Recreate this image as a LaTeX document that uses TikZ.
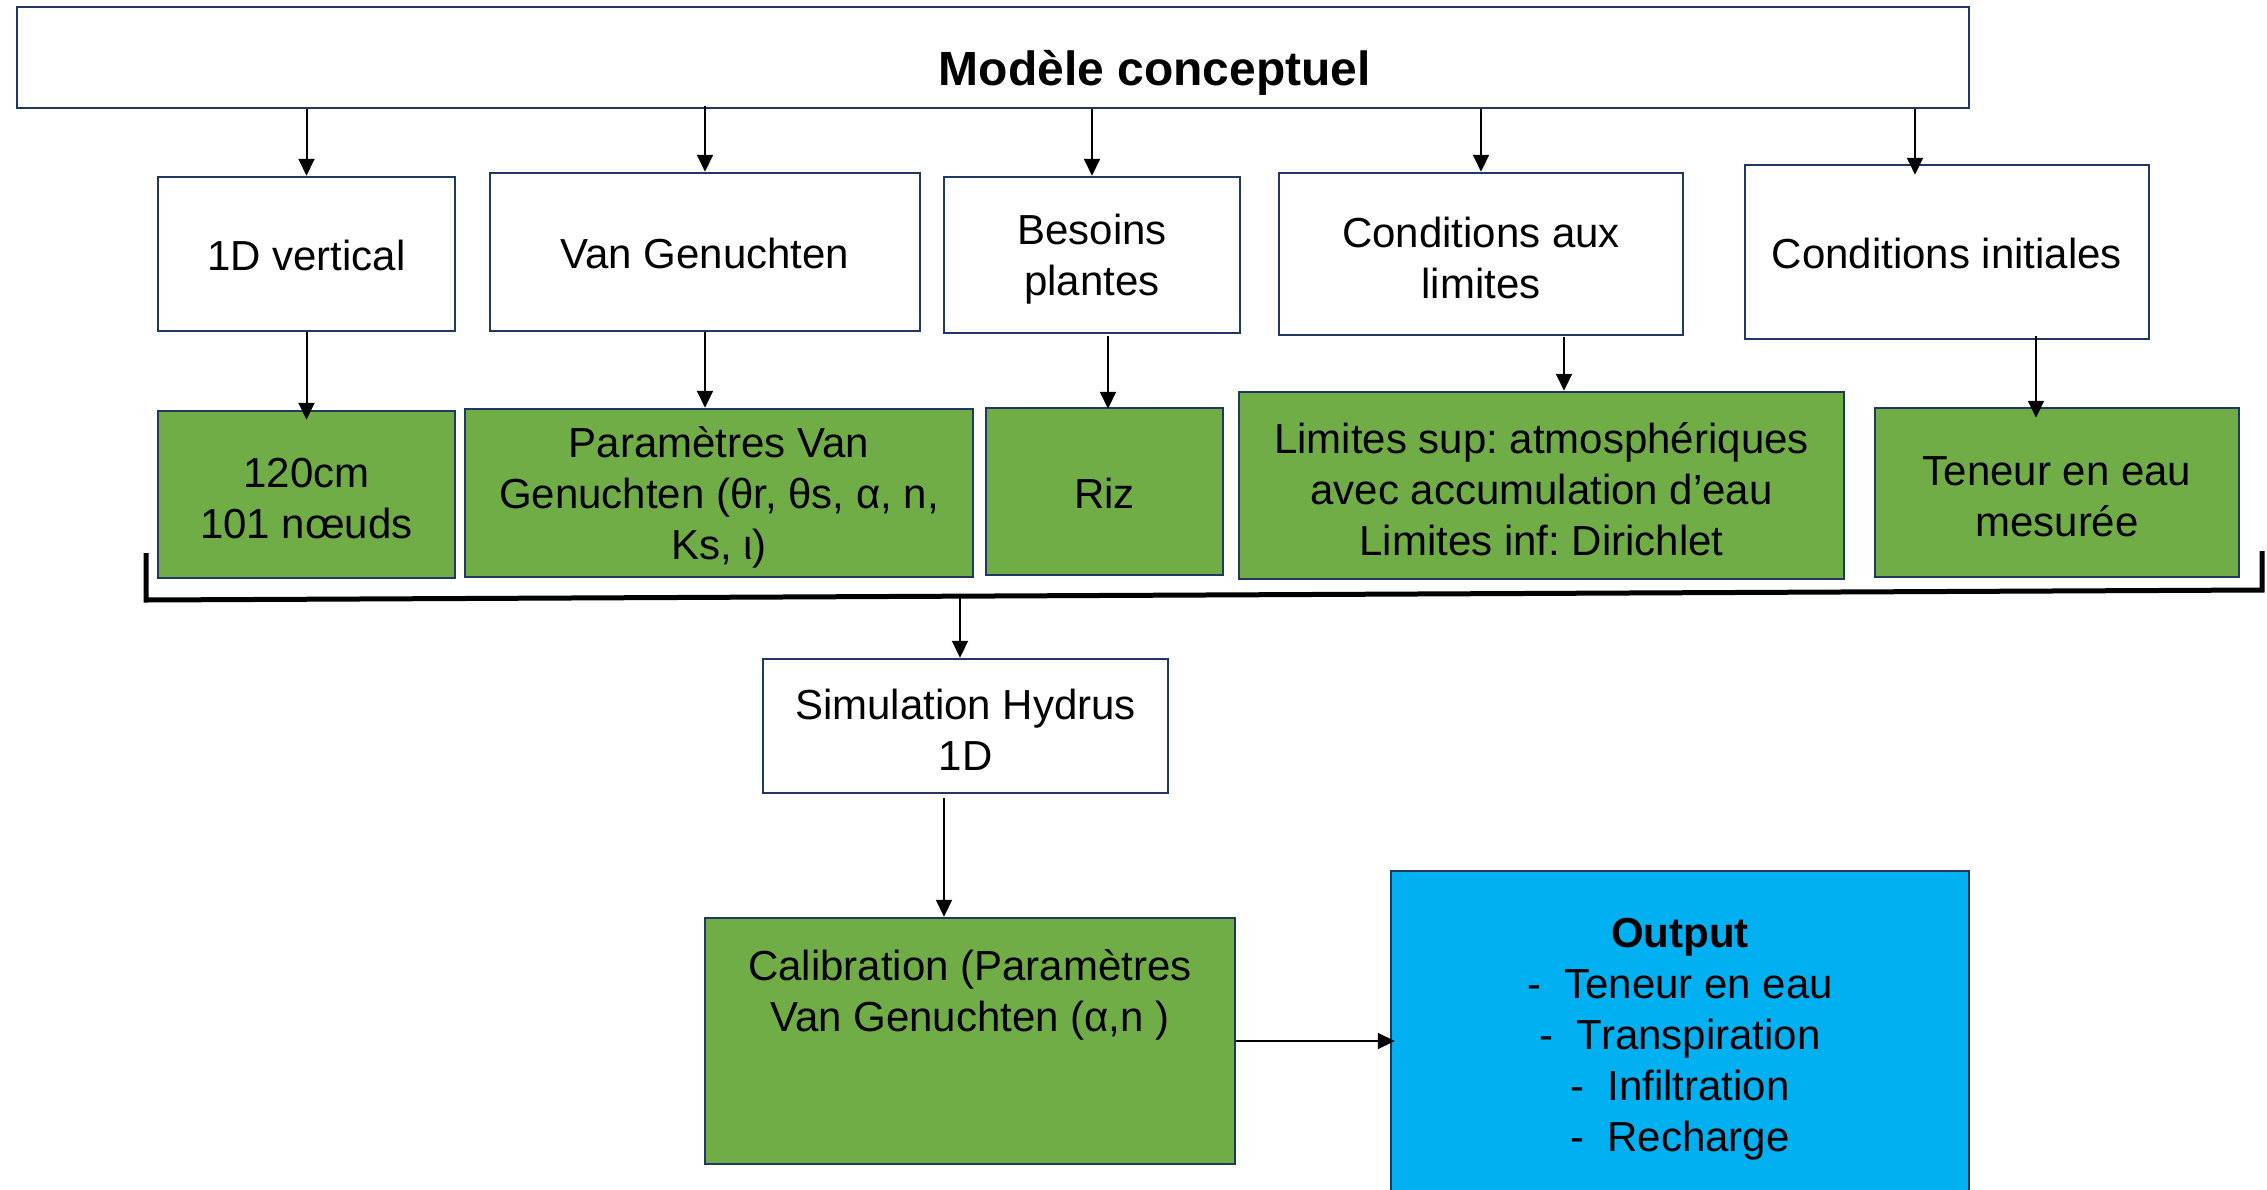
\documentclass[tikz,border=0pt]{standalone}
\usepackage{fontspec}
\setmainfont{Liberation Sans}
\usetikzlibrary{arrows.meta,calc}
\definecolor{bord}{HTML}{1F3864}
\definecolor{grn}{HTML}{70AD47}
\definecolor{blu}{HTML}{00B0F0}
\begin{document}
\frenchspacing
\begin{tikzpicture}[x=1pt,y=-1pt,
  box/.style={draw=bord, line width=2.5pt, inner sep=0pt},
  wbox/.style={box, fill=white},
  gbox/.style={box, fill=grn},
  obox/.style={box, fill=blu},
  txt/.style={align=center, inner sep=0pt, font=\fontsize{42}{51}\selectfont},
  lbl/.style={label={[txt,yshift=-4pt]center:{#1}}},
  lbla/.style={label={[txt,yshift=-1.5pt]center:{#1}}},
  arr/.style={-{Triangle[length=17pt,width=16pt]}, line width=2pt, black},
  brk/.style={line width=5pt, black, line join=miter}]
\useasboundingbox (0,0) rectangle (2267,1189);

% top box
\node[wbox, minimum width=1952pt, minimum height=101pt] (top) at (993,57.5) {};
\node[txt, anchor=base, font=\bfseries\fontsize{48}{55}\selectfont] (title) at (1155,85) {Modèle conceptuel};

% row 2
\node[wbox, minimum width=297pt, minimum height=154pt, lbla={1D vertical}] (v1d) at (306.5,254) {};
\node[wbox, minimum width=430pt, minimum height=158pt, lbla={Van Genuchten}] (vg) at (705,252) {};
\node[wbox, minimum width=296pt, minimum height=156pt, lbl={Besoins\\plantes}] (bes) at (1092,255) {};
\node[wbox, minimum width=404pt, minimum height=162pt, lbl={Conditions aux\\limites}] (cl) at (1481,254) {};
\node[wbox, minimum width=404pt, minimum height=174pt, lbla={Conditions initiales}] (ci) at (1947,252) {};

% row 3
\node[gbox, minimum width=297pt, minimum height=167pt, lbl={120cm\\101 nœuds}] (g1) at (306.5,494.5) {};
\node[gbox, minimum width=508pt, minimum height=168pt, lbl={Paramètres Van\\Genuchten (θr, θs, α, n,\\Ks, ι)}] (g2) at (719,493) {};
\node[gbox, minimum width=237pt, minimum height=167pt, lbla={Riz}] (g3) at (1104.5,491.5) {};
\node[gbox, minimum width=605pt, minimum height=187pt, lbl={Limites sup: atmosphériques\\avec accumulation d’eau\\Limites inf: Dirichlet}] (g4) at (1541.5,485.5) {};
\node[gbox, minimum width=364pt, minimum height=169pt, lbl={Teneur en eau\\mesurée}] (g5) at (2057,492.5) {};

% bracket
\coordinate (bA) at (146,553);
\coordinate (bB) at (146,600);
\coordinate (bC) at (2262,590);
\coordinate (bD) at (2262,551);
\draw[brk] (bA) -- (bB) -- (bC) -- (bD);
\coordinate (bk) at (960,596);

% simulation
\node[wbox, minimum width=405pt, minimum height=134pt, lbl={Simulation Hydrus\\1D}] (sim) at (965.5,726) {};

% calibration
\node[gbox, minimum width=530pt, minimum height=246pt] (cal) at (970,1041) {};
\node[txt] (calt) at (970,995) {Calibration (Paramètres\\Van Genuchten (α,n )};

% output
\node[obox, minimum width=578pt, minimum height=329pt] (out) at (1680,1035.5) {};
\node[txt] (outt) at (1680,1039) {\textbf{Output}\\-~~Teneur en eau\\-~~Transpiration\\-~~Infiltration\\-~~Recharge};

% arrow x positions
\coordinate (x5) at (1915,0);
\coordinate (x3) at (1108,0);
\coordinate (x4) at (1564,0);
\coordinate (x6) at (2036,0);
\coordinate (x7) at (944,0);

% arrows top -> row 2
\draw[arr] (top.south -| v1d.north) -- (v1d.north);
\draw[arr] ($(top.south -| vg.north)+(0,-3)$) -- (vg.north);
\draw[arr] (top.south -| bes.north) -- (bes.north);
\draw[arr] (top.south -| cl.north) -- (cl.north);
\draw[arr] (top.south -| x5) -- ($(ci.north -| x5)+(0,11)$);

% arrows row 2 -> row 3
\draw[arr] (v1d.south) -- ($(g1.north -| v1d.south)+(0,10)$);
\draw[arr] (vg.south) -- (g2.north -| vg.south);
\draw[arr] ($(bes.south -| x3)+(0,2)$) -- ($(g3.north -| x3)+(0,2)$);
\draw[arr] ($(cl.south -| x4)+(0,1)$) -- (g4.north -| x4);
\draw[arr] ($(ci.south -| x6)+(0,-4)$) -- ($(g5.north -| x6)+(0,11)$);

% lower arrows
\draw[arr] (bk) -- (sim.north -| bk);
\draw[arr] ($(sim.south -| x7)+(0,4)$) -- (cal.north -| x7);
\draw[arr] (cal.east) -- ($(out.west |- cal.east)+(5,0)$);
\end{tikzpicture}
\end{document}
